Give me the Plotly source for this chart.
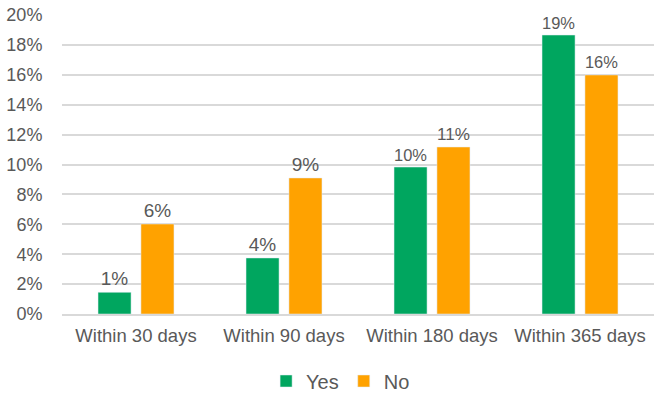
import plotly.graph_objects as go

categories = ["Within 30 days", "Within 90 days", "Within 180 days", "Within 365 days"]
yes_values = [1.45, 3.75, 9.83, 18.66]
no_values = [6.02, 9.1, 11.17, 15.99]
y_ticks = [0, 2, 4, 6, 8, 10, 12, 14, 16, 18, 20]

GREY = "#595959"
FONT = "Liberation Sans, Arial, sans-serif"

fig = go.Figure()
fig.add_trace(go.Bar(
    name="Yes", x=categories, y=yes_values, marker_color="#00A65F",
    texttemplate="%{y:.0f}%", textposition="outside", cliponaxis=False,
    textfont=dict(size=19, color=GREY, family=FONT),
))
fig.add_trace(go.Bar(
    name="No", x=categories, y=no_values, marker_color="#FFA200",
    texttemplate="%{y:.0f}%", textposition="outside", cliponaxis=False,
    textfont=dict(size=19, color=GREY, family=FONT),
))

fig.update_layout(
    width=655, height=396,
    margin=dict(l=62, r=1, t=15, b=82, autoexpand=False),
    paper_bgcolor="white", plot_bgcolor="white",
    barmode="group", bargap=0.42, bargroupgap=0.23,
    font=dict(family=FONT, color=GREY, size=18),
    legend=dict(orientation="h", x=0.52, xref="container", xanchor="center",
                y=15/396, yref="container", yanchor="middle",
                font=dict(size=20, color=GREY), itemwidth=30, traceorder="normal"),
)
fig.update_yaxes(
    range=[0, 20], tickvals=y_ticks, ticktext=[f"{v}%" for v in y_ticks],
    showgrid=True, gridcolor="#D9D9D9", gridwidth=1.5,
    zeroline=False, showline=False,
    ticks="outside", ticklen=15, tickcolor="rgba(0,0,0,0)",
    tickfont=dict(size=18, color=GREY),
)
fig.update_xaxes(
    showline=True, linecolor="#D9D9D9", linewidth=1.5,
    ticks="", tickfont=dict(size=18.5, color=GREY), ticklabelstandoff=4,
)

fig.write_html("out.html")
